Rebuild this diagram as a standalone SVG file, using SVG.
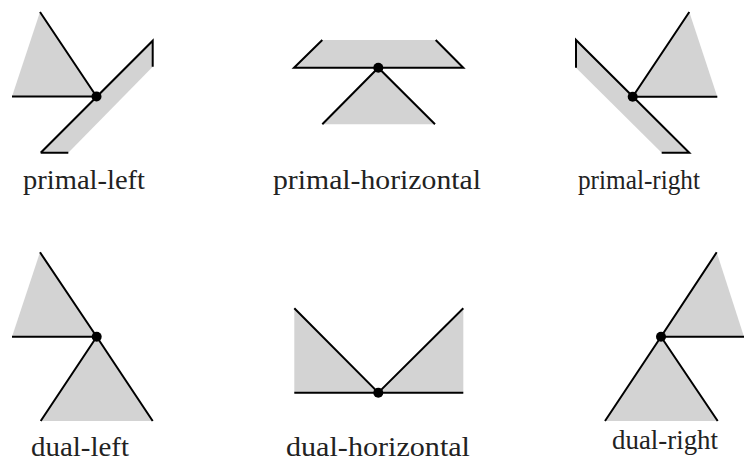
<svg xmlns="http://www.w3.org/2000/svg" width="744" height="466" viewBox="0 0 744 466">
<style>
.fill{fill:#d3d3d3;stroke:none}
.edge{stroke:#000;stroke-width:2;fill:none;stroke-linecap:butt}
.dot{fill:#000}
.lbl{font-family:"Liberation Serif","DejaVu Serif",serif;font-size:27px;fill:#222;text-anchor:middle}
</style>
<rect width="744" height="466" fill="#fff"/>
<g id="primal-left">
<polygon class="fill" points="40,12 12,96.5 96.5,96.5"/>
<polygon class="fill" points="40.7,152.7 152.7,40.7 152.7,66.7 68.3,152.7"/>
<path class="edge" d="M40,12 L96.5,96.5 M12,96.5 L96.5,96.5 M40.7,152.7 L152.7,40.7 L152.7,66.7 M40.7,152.7 L68.3,152.7"/>
<circle class="dot" cx="96.5" cy="96.5" r="5"/>
<text class="lbl" x="84" y="189" textLength="122" lengthAdjust="spacingAndGlyphs">primal-left</text>
</g>
<g id="primal-horizontal">
<polygon class="fill" points="322.3,40 435.7,40 463.3,67.7 294,67.7"/>
<polygon class="fill" points="378.3,67.7 322.3,124.3 435,124.3"/>
<path class="edge" d="M322.3,40 L294,67.7 L463.3,67.7 L435.7,40 M322.3,124.3 L378.3,67.7 L435,124.3"/>
<circle class="dot" cx="378.3" cy="67.7" r="5"/>
<text class="lbl" x="377" y="189" textLength="208" lengthAdjust="spacingAndGlyphs">primal-horizontal</text>
</g>
<g id="primal-right">
<polygon class="fill" points="689.3,12 717.3,96.7 632.7,96.7"/>
<polygon class="fill" points="576,40 689.3,152.7 661.7,152.7 576,67.7"/>
<path class="edge" d="M689.3,12 L632.7,96.7 L717.3,96.7 M576,67.7 L576,40 L689.3,152.7 L661.7,152.7"/>
<circle class="dot" cx="632.7" cy="96.7" r="5"/>
<text class="lbl" x="639" y="189" textLength="122" lengthAdjust="spacingAndGlyphs">primal-right</text>
</g>
<g id="dual-left">
<polygon class="fill" points="40,252.3 12,336.7 96.7,336.7"/>
<polygon class="fill" points="96.7,336.7 40.7,421 152.7,421"/>
<path class="edge" d="M40,252.3 L96.7,336.7 M12,336.7 L96.7,336.7 M40.7,421 L96.7,336.7 L152.7,421"/>
<circle class="dot" cx="96.7" cy="336.7" r="5"/>
<text class="lbl" x="80" y="456" textLength="98" lengthAdjust="spacingAndGlyphs">dual-left</text>
</g>
<g id="dual-horizontal">
<polygon class="fill" points="294.3,308.3 294.3,392.7 378.3,392.7"/>
<polygon class="fill" points="463.3,308.3 463.3,392.7 378.3,392.7"/>
<path class="edge" d="M294.3,308.3 L378.3,392.7 L463.3,308.3 M294.3,392.7 L463.3,392.7"/>
<circle class="dot" cx="378.3" cy="392.7" r="5"/>
<text class="lbl" x="378" y="456" textLength="184" lengthAdjust="spacingAndGlyphs">dual-horizontal</text>
</g>
<g id="dual-right">
<polygon class="fill" points="716.7,252.3 744,336.7 661,336.7"/>
<polygon class="fill" points="661,336.7 605,421 717.7,421"/>
<path class="edge" d="M716.7,252.3 L661,336.7 L744,336.7 M605,421 L661,336.7 L717.7,421"/>
<circle class="dot" cx="661" cy="336.7" r="5"/>
<text class="lbl" x="665" y="449" textLength="106" lengthAdjust="spacingAndGlyphs">dual-right</text>
</g>
<g id="connectors"></g>
</svg>
